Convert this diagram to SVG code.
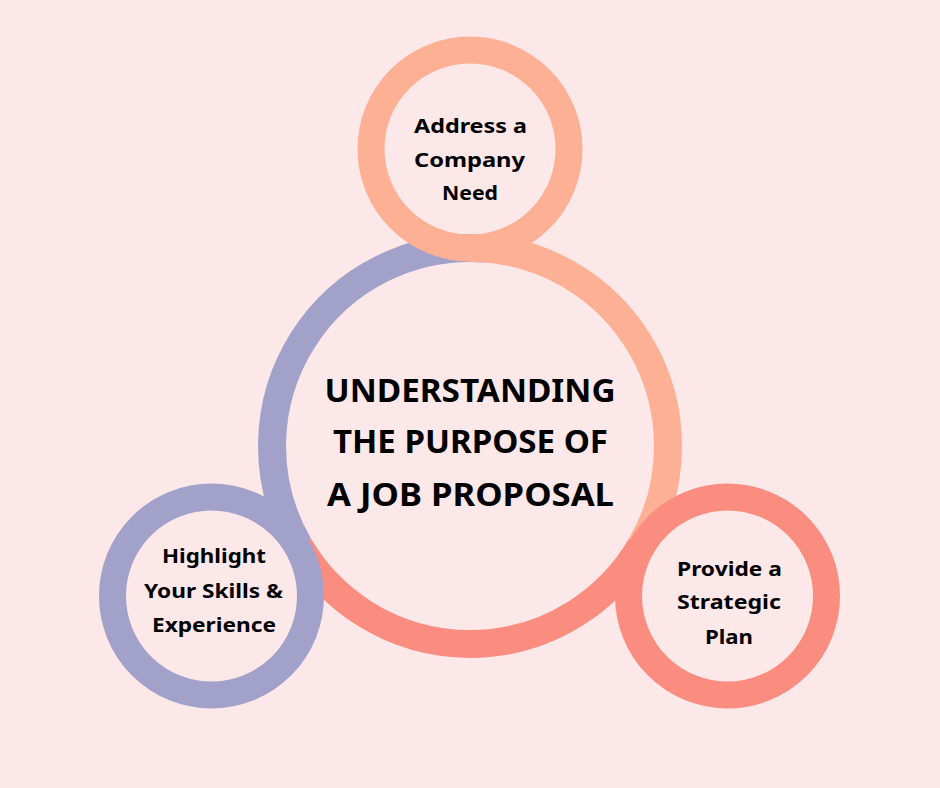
<svg xmlns="http://www.w3.org/2000/svg" width="940" height="788" viewBox="0 0 940 788">
<style>
.ring{fill:none;stroke-width:27}
.arc{fill:none;stroke-width:28}
.purple{stroke:#A2A1C9}
.peach{stroke:#FDB094}
.salmon{stroke:#FB8D80}
.t{font-family:"Noto Sans","DejaVu Sans",sans-serif;font-weight:700;fill:#000;text-anchor:middle}
.title{font-size:32px}
.lbl{font-size:20px}
</style>
<rect width="940" height="788" fill="#FCE8E8"/>
<g id="main">
<path class="arc purple" d="M298.9,545.6 A198,198 0 0 1 487.3,248.8"/>
<path class="arc salmon" d="M641.1,545.6 A198,198 0 0 1 298.9,545.6"/>
<path class="arc peach" d="M470,248 A198,198 0 0 1 641.1,545.6"/>
<text class="t title" x="470" y="402" textLength="291" lengthAdjust="spacingAndGlyphs">UNDERSTANDING</text>
<text class="t title" x="470.5" y="453" textLength="275" lengthAdjust="spacingAndGlyphs">THE PURPOSE OF</text>
<text class="t title" x="470.5" y="506" textLength="287" lengthAdjust="spacingAndGlyphs">A JOB PROPOSAL</text>
</g>
<g id="node-top">
<circle class="ring peach" cx="470" cy="149" r="99"/>
<text class="t lbl" x="470.5" y="133" textLength="113" lengthAdjust="spacingAndGlyphs">Address a</text>
<text class="t lbl" x="469.5" y="167" textLength="111" lengthAdjust="spacingAndGlyphs">Company</text>
<text class="t lbl" x="470" y="200" textLength="56" lengthAdjust="spacingAndGlyphs">Need</text>
</g>
<g id="node-left">
<circle class="ring purple" cx="211.5" cy="596" r="99"/>
<text class="t lbl" x="214" y="563" textLength="104" lengthAdjust="spacingAndGlyphs">Highlight</text>
<text class="t lbl" x="213.5" y="598" textLength="139" lengthAdjust="spacingAndGlyphs">Your Skills &amp;</text>
<text class="t lbl" x="214" y="632" textLength="124" lengthAdjust="spacingAndGlyphs">Experience</text>
</g>
<g id="node-right">
<circle class="ring salmon" cx="727.5" cy="596" r="99"/>
<text class="t lbl" x="729.5" y="576" textLength="105" lengthAdjust="spacingAndGlyphs">Provide a</text>
<text class="t lbl" x="729" y="609" textLength="104" lengthAdjust="spacingAndGlyphs">Strategic</text>
<text class="t lbl" x="729" y="644" textLength="48" lengthAdjust="spacingAndGlyphs">Plan</text>
</g>
<g id="connectors"></g>
</svg>
